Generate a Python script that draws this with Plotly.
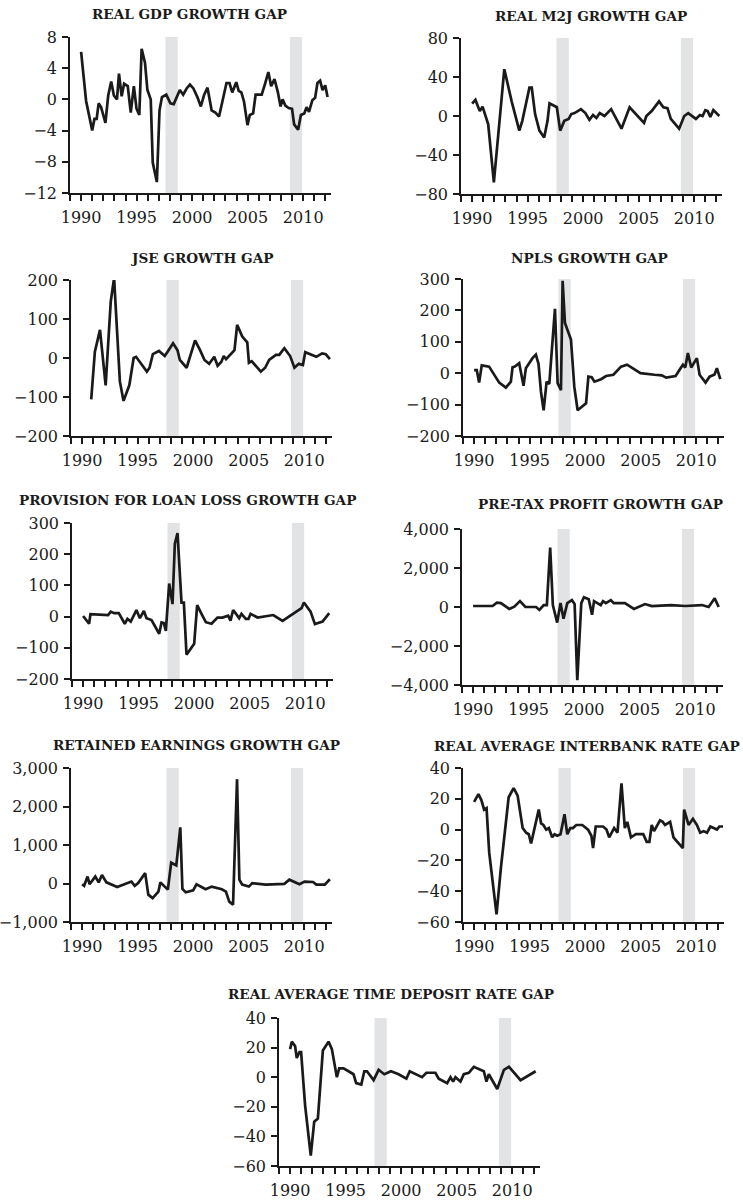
import plotly.graph_objects as go

# ---------------- DATA ----------------
gdp_t = [1990.00, 1990.45, 1991.00, 1991.20, 1991.40, 1991.58, 1991.80, 1992.19, 1992.44, 1992.71, 1992.95,
         1993.23, 1993.41, 1993.65, 1993.87, 1994.20, 1994.47, 1994.75, 1994.99, 1995.24, 1995.45, 1995.75,
         1995.97, 1996.27, 1996.45, 1996.82, 1997.06, 1997.28, 1997.67, 1998.04, 1998.34, 1998.65, 1998.89,
         1999.19, 1999.50, 1999.80, 2000.11, 2000.47, 2000.78, 2001.08, 2001.38, 2001.75, 2002.09, 2002.42,
         2002.75, 2003.09, 2003.36, 2003.61, 2003.97, 2004.19, 2004.43, 2004.67, 2004.98, 2005.19, 2005.49,
         2005.71, 2005.95, 2006.26, 2006.56, 2006.86, 2007.11, 2007.41, 2007.72, 2007.96, 2008.14, 2008.39,
         2008.69, 2008.99, 2009.18, 2009.54, 2009.79, 2010.09, 2010.30, 2010.52, 2010.82, 2011.07, 2011.28,
         2011.52, 2011.74, 2011.98, 2012.19]
gdp_v = [6.1, -0.2, -4, -2.5, -2.5, -0.5, -1, -3, 0.5, 2.3, 0.5, 0, 3.3, 0.4, 2, 1.7, -1.7, 1.7, -1.2, -2,
         6.5, 4.7, 1.2, 0, -8.1, -10.6, -1.4, 0.3, 0.6, -0.5, -0.6, 0.5, 1.2, 0.6, 1.4, 1.9, 1.4, 0.3, -0.9,
         0.6, 1.5, -1.4, -1.7, -2.2, -0.1, 2.1, 2.1, 0.9, 2.2, 1.1, 0.9, -0.3, -3.3, -2, -1.8, 0.6, 0.6, 0.6,
         2, 3.5, 1.7, 2.6, 0.9, -0.9, 0, -0.8, -1.1, -1.2, -3.2, -3.9, -2, -1.8, -1, -1.6, -0.1, 0.2, 2.1,
         2.4, 1.2, 1.8, 0.3]

m2j_t = [1990.00, 1990.30, 1990.69, 1990.94, 1991.45, 1991.96, 1992.90, 1993.56, 1994.25, 1994.52, 1995.16,
         1995.37, 1995.67, 1996.06, 1996.49, 1996.79, 1996.97, 1997.63, 1997.93, 1998.30, 1998.69, 1998.93,
         1999.23, 1999.80, 2000.20, 2000.56, 2000.89, 2001.19, 2001.49, 2001.92, 2002.52, 2003.45, 2004.18,
         2004.87, 2005.48, 2005.69, 2006.17, 2006.83, 2007.22, 2007.59, 2007.89, 2008.64, 2009.10, 2009.46,
         2010.15, 2010.51, 2010.75, 2011.00, 2011.21, 2011.45, 2011.72, 2012.26]
m2j_v = [12.7, 16.5, 5, 9.6, -8.6, -68, 48, 15, -15, -5, 29, 29, 2, -15, -22, -5, 13, 9, -15, -5, -3, 2, 3,
         7, 3, -4, 1, -2, 3, 0, 7, -13, 9, 0, -7, 0, 5, 15, 9, 8, -3, -13, 0, 3, -3, 1, 0, 6, 5, -1, 6, 0]

jse_t = [1990.82, 1991.15, 1991.61, 1992.12, 1992.58, 1992.88, 1993.40, 1993.73, 1994.25, 1994.64, 1994.86,
         1995.31, 1995.83, 1996.07, 1996.37, 1996.92, 1997.44, 1997.83, 1998.19, 1998.59, 1998.80, 1999.41,
         1999.86, 2000.17, 2000.62, 2001.02, 2001.44, 2001.90, 2002.20, 2002.53, 2002.75, 2002.96, 2003.72,
         2003.96, 2004.42, 2004.87, 2005.02, 2005.27, 2006.09, 2006.48, 2006.84, 2007.45, 2007.75, 2008.21,
         2008.73, 2009.12, 2009.51, 2009.88, 2010.09, 2010.49, 2011.09, 2011.61, 2011.94, 2012.31]
jse_v = [-106, 16, 72, -70, 145, 205, -60, -110, -70, 0, 3, -15, -35, -25, 10, 18, 5, 22, 38, 20, -5, -25,
         15, 45, 20, -5, -15, 3, -20, -10, 5, -3, 20, 85, 55, 40, -12, -8, -35, -25, -5, 8, 8, 25, 5, -25,
         -15, -18, 15, 10, 3, 12, 10, -3]

npl_t = [1990.00, 1990.24, 1990.45, 1990.69, 1991.35, 1991.80, 1992.26, 1992.86, 1993.31, 1993.46, 1993.67,
         1994.06, 1994.45, 1994.66, 1995.26, 1995.56, 1995.80, 1996.02, 1996.26, 1996.53, 1996.77, 1997.28,
         1997.52, 1997.82, 1997.97, 1998.18, 1998.72, 1999.02, 1999.32, 2000.08, 2000.29, 2000.59, 2000.83,
         2001.43, 2001.88, 2002.54, 2003.23, 2003.77, 2004.29, 2004.98, 2006.24, 2006.90, 2007.29, 2008.14,
         2008.59, 2008.80, 2009.01, 2009.25, 2009.55, 2010.06, 2010.30, 2010.84, 2011.20, 2011.65, 2011.86,
         2012.17]
npl_v = [10, 10, -30, 25, 21, -5, -30, -46, -27, 19, 21, 32, -40, 16, 48, 59, 30, -59, -118, -27, -34, 205,
         -32, -54, 294, 160, 107, -43, -118, -96, -11, -13, -27, -19, -9, -5, 21, 27, 16, 0, -5, -7, -14,
         -9, 16, 27, 18, 64, 18, 48, -5, -30, -11, -4, 16, -19]

prov_t = [1990.00, 1990.54, 1990.66, 1992.25, 1992.49, 1992.79, 1993.21, 1993.75, 1993.99, 1994.29, 1994.80,
          1995.11, 1995.47, 1995.71, 1996.16, 1996.85, 1997.06, 1997.27, 1997.45, 1997.75, 1998.05, 1998.26,
          1998.50, 1998.86, 1999.07, 1999.31, 2000.00, 2000.27, 2000.66, 2001.05, 2001.56, 2002.10, 2002.55,
          2003.06, 2003.27, 2003.51, 2004.05, 2004.26, 2004.65, 2004.89, 2005.08, 2005.71, 2007.12, 2007.96,
          2009.67, 2009.88, 2010.48, 2010.87, 2011.56, 2012.16]
prov_v = [2, -23, 8, 5, 16, 11, 11, -23, -7, -16, 21, -5, 18, -5, -11, -55, -19, -21, -46, 106, 40, 234,
          268, 45, 45, -122, -87, 37, 9, -18, -23, -3, -3, 3, -13, 21, -5, 9, -7, -7, 9, -3, 5, -14, 27, 45,
          16, -24, -16, 11]

ptp_t = [1990.00, 1991.75, 1992.14, 1992.50, 1993.26, 1993.71, 1994.22, 1994.71, 1995.67, 1995.97, 1996.36,
         1996.64, 1996.94, 1997.18, 1997.57, 1997.87, 1998.14, 1998.48, 1998.90, 1999.14, 1999.38, 1999.74,
         1999.98, 2000.41, 2000.71, 2000.89, 2001.49, 2001.70, 2001.95, 2002.40, 2002.67, 2003.67, 2004.48,
         2005.48, 2006.08, 2007.83, 2009.10, 2010.60, 2011.21, 2011.75, 2012.11]
ptp_v = [50, 50, 220, 200, -100, 20, 300, 0, 0, -150, 100, 100, 3050, 100, -800, 200, -600, 200, 350, 150,
         -3750, 200, 500, 400, -400, 300, 100, 300, 200, 350, 200, 200, -100, 150, 50, 100, 50, 100, 0, 450, 0]

ret_t = [1990.00, 1990.18, 1990.49, 1990.67, 1991.19, 1991.49, 1991.79, 1992.19, 1993.16, 1994.44, 1994.74,
         1995.05, 1995.68, 1995.96, 1996.35, 1996.87, 1997.05, 1997.72, 1998.02, 1998.48, 1998.84, 1999.03,
         1999.33, 2000.00, 2000.30, 2001.12, 2001.67, 2002.58, 2002.95, 2003.25, 2003.59, 2003.95, 2004.16,
         2004.41, 2005.02, 2005.32, 2006.53, 2008.21, 2008.66, 2009.57, 2010.03, 2010.79, 2011.09, 2011.85,
         2012.31]
ret_v = [-20, -60, 180, -20, 180, 30, 220, 30, -90, 50, -60, 10, 270, -290, -380, -210, 30, -160, 540, 470,
         1460, -140, -230, -180, -20, -150, -80, -150, -210, -470, -550, 2710, 100, -30, -80, 10, -30, -10,
         100, -20, 50, 40, -30, -30, 110]

ib_t = [1990.00, 1990.39, 1990.66, 1990.90, 1991.12, 1991.36, 1992.02, 1992.41, 1993.11, 1993.56, 1993.92,
        1994.37, 1994.68, 1994.92, 1995.13, 1995.82, 1996.03, 1996.24, 1996.49, 1996.73, 1997.03, 1997.24,
        1997.48, 1997.78, 1998.14, 1998.39, 1998.66, 1998.90, 1999.20, 1999.74, 2000.26, 2000.56, 2000.71,
        2000.95, 2001.61, 2001.92, 2002.16, 2002.61, 2002.91, 2003.27, 2003.57, 2003.79, 2004.12, 2004.57,
        2005.23, 2005.54, 2005.78, 2005.99, 2006.20, 2006.74, 2006.98, 2007.19, 2007.65, 2007.95, 2008.79,
        2008.91, 2009.31, 2009.70, 2010.06, 2010.36, 2010.66, 2010.97, 2011.27, 2011.66, 2011.87, 2012.08,
        2012.41]
ib_v = [18, 23, 19, 13, 14, -15, -55, -25, 21, 27, 22, 1, -2, -3, -9, 13, 4, 3, 0, 1, -5, -3, -4, -3, 10,
        -3, 1, 1, 3, 3, 0, -4, -12, 2, 2, 0, -5, 1, -2, 30, 1, 5, -5, -3, -3, -8, -8, 3, -1, 6, 5, 3, 5, -5,
        -12, 13, 3, 7, 3, -2, -1, -2, 2, 1, 0, 2, 2]

td_t = [1990.00, 1990.15, 1990.45, 1990.60, 1990.84, 1990.99, 1991.35, 1991.86, 1992.17, 1992.50, 1992.95,
        1993.46, 1993.76, 1994.21, 1994.42, 1994.81, 1995.26, 1995.71, 1995.95, 1996.41, 1996.68, 1996.92,
        1997.52, 1997.97, 1998.48, 1999.08, 1999.77, 2000.47, 2000.77, 2001.88, 2002.27, 2003.08, 2003.38,
        2004.14, 2004.44, 2004.68, 2004.89, 2005.34, 2005.64, 2006.09, 2006.54, 2006.84, 2007.44, 2007.68,
        2007.89, 2008.65, 2009.25, 2009.70, 2010.75, 2012.11]
td_v = [19, 24, 21, 13, 17, 17, -19, -53, -30, -28, 18, 24, 19, 0, 6, 6, 4, 2, -4, -5, 4, 4, -2, 5, 2, 4,
        2, -1, 4, 0, 3, 3, -1, -4, 0, -3, 0, -3, 2, 3, 7, 6, 4, -3, 2, -8, 5, 7, -2, 4]

titles = ["REAL GDP GROWTH GAP", "REAL M2J GROWTH GAP", "JSE GROWTH GAP", "NPLS GROWTH GAP",
          "PROVISION FOR LOAN LOSS GROWTH GAP", "PRE-TAX PROFIT GROWTH GAP",
          "RETAINED EARNINGS GROWTH GAP", "REAL AVERAGE INTERBANK RATE GAP",
          "REAL AVERAGE TIME DEPOSIT RATE GAP"]

y_ticks = [[-12, -8, -4, 0, 4, 8], [-80, -40, 0, 40, 80], [-200, -100, 0, 100, 200],
           [-200, -100, 0, 100, 200, 300], [-200, -100, 0, 100, 200, 300],
           [-4000, -2000, 0, 2000, 4000], [-1000, 0, 1000, 2000, 3000],
           [-60, -40, -20, 0, 20, 40], [-60, -40, -20, 0, 20, 40]]

year_ticks = list(range(1989, 2013))
year_labels = [str(y) if y % 5 == 0 else "" for y in year_ticks]

shade_start = [1997.6, 2008.8]
shade_end = [1998.7, 2009.9]

series = [(gdp_t, gdp_v), (m2j_t, m2j_v), (jse_t, jse_v), (npl_t, npl_v), (prov_t, prov_v),
          (ptp_t, ptp_v), (ret_t, ret_v), (ib_t, ib_v), (td_t, td_v)]

# ---------------- LAYOUT ----------------
W, H = 743, 1201
# plot boxes in page pixels: left, right, top, bottom
boxes = [(70, 331, 37, 193), (461, 722, 38, 194),
         (71, 332, 280, 436), (463, 724, 279, 436),
         (72, 333, 523, 679), (462, 723, 529, 685),
         (71, 332, 768, 922), (463, 724, 768, 922),
         (279, 540, 1018, 1166)]
title_pos = [(189, 14), (591, 16), (202, 258), (589, 258), (187, 500), (600, 504),
             (196, 745), (587, 746), (391, 994)]

FONT = "DejaVu Serif"
INK = "#1a1a1a"

fig = go.Figure()
layout = dict(width=W, height=H, margin=dict(l=0, r=0, t=0, b=0, autoexpand=False),
              showlegend=False, plot_bgcolor="white", paper_bgcolor="white",
              font=dict(family=FONT, size=15, color=INK), annotations=[], shapes=[])

for i, ((t, v), box, ticks) in enumerate(zip(series, boxes, y_ticks)):
    n = "" if i == 0 else str(i + 1)
    l, r, top, bot = box
    xa = dict(domain=[l / W, r / W], range=[1989, 2012.5], anchor="y" + n,
              tickmode="array", tickvals=year_ticks, ticktext=year_labels,
              showgrid=False, zeroline=False, showline=True, linecolor=INK, linewidth=1.6,
              ticks="outside", ticklen=6, tickwidth=1.6, tickcolor=INK, automargin=False,
              tickfont=dict(family=FONT, size=16, color=INK), ticklabelstandoff=3)
    ya = dict(domain=[1 - bot / H, 1 - top / H], range=[ticks[0], ticks[-1]], anchor="x" + n,
              tickmode="array", tickvals=ticks, automargin=False,
              showgrid=False, zeroline=False, showline=True, linecolor=INK, linewidth=1.6,
              ticks="outside", ticklen=6, tickwidth=1.6, tickcolor=INK,
              tickfont=dict(family=FONT, size=16, color=INK), ticklabelstandoff=2,
              tickformat=",d" if ticks[-1] >= 1000 else "d")
    layout["xaxis" + n] = xa
    layout["yaxis" + n] = ya
    for s0, s1 in zip(shade_start, shade_end):
        layout["shapes"].append(dict(type="rect", xref="x" + n, yref="y" + n + " domain",
                                     x0=s0, x1=s1, y0=0, y1=1, fillcolor="#e2e3e5",
                                     line=dict(width=0), layer="below"))
    fig.add_trace(go.Scatter(x=t, y=v, mode="lines", xaxis="x" + n, yaxis="y" + n,
                             line=dict(color=INK, width=2.7), hoverinfo="skip"))
    cx, cy = title_pos[i]
    layout["annotations"].append(dict(text=titles[i], x=cx / W, y=1 - cy / H,
                                      xref="paper", yref="paper", xanchor="center",
                                      yanchor="middle", showarrow=False,
                                      font=dict(family=FONT, size=13.6, color=INK, weight="bold")))

fig.update_layout(**layout)
fig.write_html("out.html", include_plotlyjs=True, config={"displayModeBar": False},
               post_script="document.body.style.margin='0px';")
